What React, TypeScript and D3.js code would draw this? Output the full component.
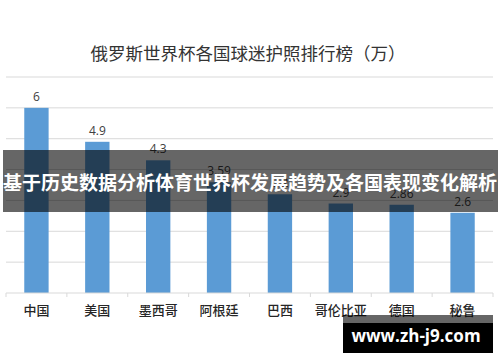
import React from "react";
import * as d3 from "d3";

const categories = ["中国", "美国", "墨西哥", "阿根廷", "巴西", "哥伦比亚", "德国", "秘鲁"];
const values = [6, 4.9, 4.3, 3.59, 3.2, 2.9, 2.86, 2.6];
const valueLabels = ["6", "4.9", "4.3", "3.59", "3.2", "2.9", "2.86", "2.6"];
const gridTicks = [0, 1, 2, 3, 4, 5, 6, 7];
const title = "俄罗斯世界杯各国球迷护照排行榜（万）";
const bannerText = "基于历史数据分析体育世界杯发展趋势及各国表现变化解析";
const watermark = "www.zh-j9.com";

const W = 500;
const H = 362;
const CJK = "'Noto Sans CJK SC', 'Noto Sans', sans-serif";

export default function App() {
  const x = d3.scaleBand<string>().domain(categories).range([6, 493]).paddingInner(0.6).paddingOuter(0.3);
  const band = d3.scaleBand<string>().domain(categories).range([6, 493]);
  const y = d3.scaleLinear().domain([0, 7]).range([293, 77]);

  return (
    <svg
      width={W}
      height={H}
      style={{ position: "absolute", left: 0, top: 0, background: "#fff" }}
    >
      <rect x={0} y={0} width={W} height={H} fill="#fff" />
      <text
        x={248}
        y={60}
        textAnchor="middle"
        fontFamily={CJK}
        fontSize={17.5}
        fill="#333333"
      >
        {title}
      </text>
      {gridTicks.slice(1).map((t) => (
        <line key={t} x1={6} x2={493} y1={y(t)} y2={y(t)} stroke="#d9d9d9" strokeWidth={1} />
      ))}
      {categories.map((c, i) => (
        <rect
          key={c}
          x={x(c)}
          y={y(values[i])}
          width={x.bandwidth()}
          height={y(0) - y(values[i])}
          fill="#5b9bd5"
        />
      ))}
      <line x1={6} x2={493} y1={y(0)} y2={y(0)} stroke="#d9d9d9" strokeWidth={1} />
      {[...categories.map((c) => band(c) as number), 493].map((bx, i) => (
        <line key={i} x1={bx} x2={bx} y1={y(0)} y2={y(0) + 4} stroke="#d9d9d9" strokeWidth={1} />
      ))}
      {categories.map((c, i) => (
        <text
          key={c}
          x={(x(c) as number) + x.bandwidth() / 2}
          y={y(values[i]) - 7}
          textAnchor="middle"
          fontFamily="'Open Sans', 'Noto Sans', sans-serif"
          fontSize={12}
          fill="#404040"
        >
          {valueLabels[i]}
        </text>
      ))}
      {categories.map((c) => (
        <text
          key={c}
          x={(band(c) as number) + band.bandwidth() / 2}
          y={315}
          textAnchor="middle"
          fontFamily={CJK}
          fontSize={13}
          fontWeight={500}
          fill="#262626"
        >
          {c}
        </text>
      ))}
      <rect x={3} y={150} width={495} height={62} fill="rgba(0,0,0,0.6)" />
      <text
        x={250}
        y={190}
        textAnchor="middle"
        fontFamily={CJK}
        fontWeight="bold"
        fontSize={19}
        fill="#fff"
      >
        {bannerText}
      </text>
      <rect x={343} y={315} width={150} height={8} fill="rgba(0,0,0,0.6)" />
      <rect x={343} y={323} width={150} height={30} fill="#000" />
      <text
        x={416}
        y={342}
        textAnchor="middle"
        fontFamily="'Open Sans', 'DejaVu Sans', sans-serif"
        fontWeight="bold"
        fontSize={17}
        fill="#fff"
      >
        {watermark}
      </text>
    </svg>
  );
}
